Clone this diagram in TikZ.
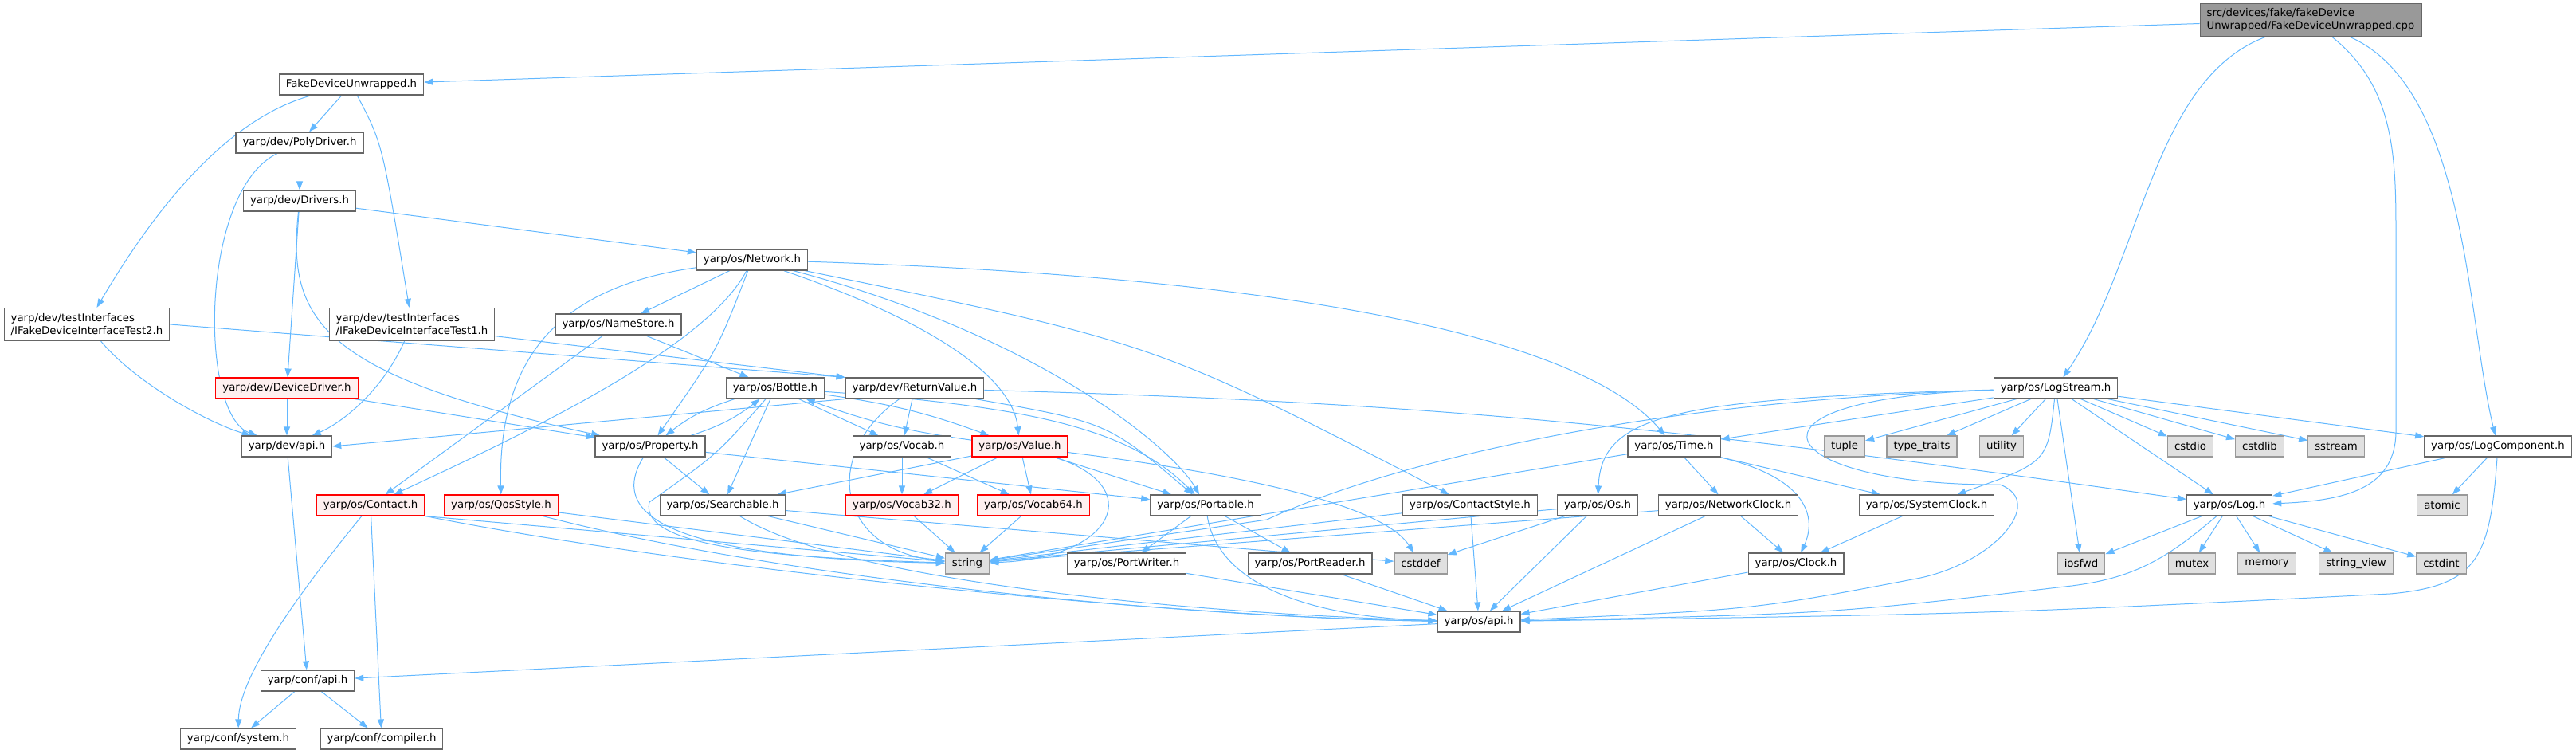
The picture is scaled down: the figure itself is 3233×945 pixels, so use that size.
\documentclass[tikz,border=0pt]{standalone}
\usepackage{fontspec}
\setmainfont{DejaVu Sans}
\usepackage{tikz}
\usetikzlibrary{arrows.meta,backgrounds}
\definecolor{edgeblue}{HTML}{63B8FF}
\definecolor{framegray}{HTML}{666666}
\definecolor{sysgray}{HTML}{999999}
\definecolor{sysfill}{HTML}{E0E0E0}
\definecolor{redfill}{HTML}{FFF0F0}

\begin{document}
\begin{tikzpicture}[x=1pt,y=-1pt,
  file/.style={draw=framegray,fill=white,line width=1.2pt,minimum height=26pt,inner xsep=8.5pt,inner ysep=2pt,font=\fontsize{13.3}{15.5}\selectfont},
  twoline/.style={file,align=left,minimum height=41pt},
  redfile/.style={file,draw=red,fill=redfill},
  sysfile/.style={file,draw=sysgray,fill=sysfill},
  rootfile/.style={twoline,fill=sysgray},
  incl/.style={draw=edgeblue,line width=1pt,-{Triangle[length=11pt,width=8pt]}}]
\useasboundingbox (0,0) rectangle (3233,945);
% files
\node[rootfile] (cpp) at (2900,25) {src/devices/fake/fakeDevice\\Unwrapped/FakeDeviceUnwrapped.cpp};
\node[file] (fdu) at (441,106) {FakeDeviceUnwrapped.h};
\node[file] (poly) at (376,179) {yarp/dev/PolyDriver.h};
\node[file] (drivers) at (376,252) {yarp/dev/Drivers.h};
\node[twoline] (test2) at (109,407) {yarp/dev/testInterfaces\\/IFakeDeviceInterfaceTest2.h};
\node[twoline] (test1) at (517,407) {yarp/dev/testInterfaces\\/IFakeDeviceInterfaceTest1.h};
\node[redfile] (devdrv) at (360,487) {yarp/dev/DeviceDriver.h};
\node[file] (devapi) at (360,560) {yarp/dev/api.h};
\node[redfile] (contact) at (465,634) {yarp/os/Contact.h};
\node[file] (confapi) at (386,854) {yarp/conf/api.h};
\node[file] (confsys) at (299,927) {yarp/conf/system.h};
\node[file] (confcomp) at (479,927) {yarp/conf/compiler.h};
\node[file] (network) at (944,326) {yarp/os/Network.h};
\node[file] (namestore) at (776,407) {yarp/os/NameStore.h};
\node[file] (bottle) at (973,487) {yarp/os/Bottle.h};
\node[file] (retval) at (1148,487) {yarp/dev/ReturnValue.h};
\node[file] (property) at (816,560) {yarp/os/Property.h};
\node[redfile] (qos) at (629,634) {yarp/os/QosStyle.h};
\node[file] (searchable) at (907,634) {yarp/os/Searchable.h};
\node[file] (vocab) at (1132,560) {yarp/os/Vocab.h};
\node[redfile] (value) at (1280,560) {yarp/os/Value.h};
\node[redfile] (vocab32) at (1132,634) {yarp/os/Vocab32.h};
\node[redfile] (vocab64) at (1297,634) {yarp/os/Vocab64.h};
\node[file] (portable) at (1513,634) {yarp/os/Portable.h};
\node[sysfile] (string) at (1214,707) {string};
\node[file] (portwriter) at (1414,707) {yarp/os/PortWriter.h};
\node[file] (portreader) at (1644,707) {yarp/os/PortReader.h};
\node[sysfile] (cstddef) at (1783,707) {cstddef};
\node[file] (osapi) at (1856,780) {yarp/os/api.h};
\node[file] (contactstyle) at (1845,634) {yarp/os/ContactStyle.h};
\node[file] (os) at (2005,634) {yarp/os/Os.h};
\node[file] (netclock) at (2169,634) {yarp/os/NetworkClock.h};
\node[file] (sysclock) at (2418,634) {yarp/os/SystemClock.h};
\node[file] (log) at (2798,634) {yarp/os/Log.h};
\node[sysfile] (atomic) at (3065,634) {atomic};
\node[file] (clock) at (2254,707) {yarp/os/Clock.h};
\node[sysfile] (iosfwd) at (2612,707) {iosfwd};
\node[sysfile] (mutex) at (2751,707) {mutex};
\node[sysfile] (memory) at (2845,707) {memory};
\node[sysfile] (stringview) at (2957,707) {string\_view};
\node[sysfile] (cstdint) at (3064,707) {cstdint};
\node[file] (time) at (2101,560) {yarp/os/Time.h};
\node[file] (logstream) at (2580,487) {yarp/os/LogStream.h};
\node[sysfile] (tuple) at (2315,560) {tuple};
\node[sysfile] (typetraits) at (2412,560) {type\_traits};
\node[sysfile] (utility) at (2512,560) {utility};
\node[sysfile] (cstdio) at (2749,560) {cstdio};
\node[sysfile] (cstdlib) at (2836,560) {cstdlib};
\node[sysfile] (sstream) at (2932,560) {sstream};
\node[file] (logcomp) at (3135,560) {yarp/os/LogComponent.h};
% includes
\begin{scope}[on background layer]
\draw[incl] (cpp) -- (fdu);
\draw[incl] (cpp) .. controls (2700,100) and (2688,330) .. (logstream);
\draw[incl] (cpp) .. controls (3007,110) and (3007,200) .. (3007,300) -- (3007,540) .. controls (3007,610) and (2950,628) .. (log);
\draw[incl] (cpp) .. controls (3096,110) and (3096,400) .. (logcomp);
\draw[incl] (fdu) -- (poly);
\draw[incl] (fdu) .. controls (280,150) and (190,270) .. (test2);
\draw[incl] (fdu) .. controls (480,180) .. (test1);
\draw[incl] (poly) -- (drivers);
\draw[incl] (poly) .. controls (250,240) and (250,520) .. (devapi);
\draw[incl] (drivers) -- (devdrv);
\draw[incl] (drivers) .. controls (360,400) and (400,470) .. (property);
\draw[incl] (drivers) -- (network);
\draw[incl] (test2) .. controls (170,480) and (260,530) .. (devapi);
\draw[incl] (test2.east) -- (retval.north west);
\draw[incl] (test1) .. controls (480,490) and (430,530) .. (devapi);
\draw[incl] (test1.-8) -- (retval.north west);
\draw[incl] (devdrv) -- (devapi);
\draw[incl] (devdrv) -- (property);
\draw[incl] (devapi) -- (confapi);
\draw[incl] (retval.south west) -- (devapi.east);
\draw[incl] (retval) -- (vocab);
\draw[incl] (retval) .. controls (1030,570) and (1050,690) .. (string);
\draw[incl] (retval) .. controls (1390,530) .. (portable);
\draw[incl] (retval) .. controls (1800,505) and (2100,535) .. (log);
\draw[incl] (network) -- (namestore);
\draw[incl] (network) .. controls (900,440) .. (property);
\draw[incl] (network) .. controls (890,430) and (690,530) .. (contact);
\draw[incl] (network) .. controls (700,360) and (625,450) .. (qos);
\draw[incl] (network) .. controls (1160,400) and (1270,470) .. (value);
\draw[incl] (network) .. controls (1300,420) and (1470,560) .. (portable);
\draw[incl] (network) .. controls (1450,430) .. (contactstyle);
\draw[incl] (network) .. controls (1700,350) and (2000,440) .. (time);
\draw[incl] (namestore) -- (bottle);
\draw[incl] (namestore) -- (contact);
\draw[incl] (bottle) to[bend right=10] (property);
\draw[incl] (property) to[bend right=10] (bottle);
\draw[incl] (bottle) to[bend left=6] (value);
\draw[incl] (value) to[bend left=6] (bottle);
\draw[incl] (bottle) -- (searchable);
\draw[incl] (bottle) .. controls (900,570) .. (815,630) .. controls (800,690) and (1000,700) .. (string);
\draw[incl] (bottle) -- (vocab);
\draw[incl] (bottle) .. controls (1300,510) and (1420,540) .. (portable);
\draw[incl] (property) -- (searchable);
\draw[incl] (property) .. controls (760,650) and (850,700) .. (string);
\draw[incl] (property) -- (portable);
\draw[incl] (value) -- (searchable);
\draw[incl] (value) -- (vocab32);
\draw[incl] (value) -- (vocab64);
\draw[incl] (value) .. controls (1440,610) and (1400,700) .. (string);
\draw[incl] (value) -- (portable);
\draw[incl] (value) .. controls (1600,600) and (1740,640) .. (cstddef);
\draw[incl] (vocab) -- (vocab32);
\draw[incl] (vocab) -- (vocab64);
\draw[incl] (vocab32) -- (string);
\draw[incl] (vocab64) -- (string);
\draw[incl] (searchable) -- (string);
\draw[incl] (searchable) .. controls (1060,730) and (1500,770) .. (osapi);
\draw[incl] (searchable) -- (cstddef);
\draw[incl] (qos) -- (string);
\draw[incl] (qos) .. controls (1000,730) and (1500,775) .. (osapi);
\draw[incl] (contact.south east) -- (string);
\draw[incl] (contact) .. controls (900,720) and (1500,775) .. (osapi);
\draw[incl] (contact) .. controls (370,750) and (300,850) .. (confsys);
\draw[incl] (contact) -- (confcomp);
\draw[incl] (confapi) -- (confsys);
\draw[incl] (confapi) -- (confcomp);
\draw[incl] (osapi) -- (confapi);
\draw[incl] (portable) -- (portwriter);
\draw[incl] (portable) -- (portreader);
\draw[incl] (portable) .. controls (1530,740) and (1660,775) .. (osapi);
\draw[incl] (portwriter) -- (osapi);
\draw[incl] (portreader) -- (osapi);
\draw[incl] (contactstyle) -- (string);
\draw[incl] (contactstyle) -- (osapi);
\draw[incl] (os) -- (string);
\draw[incl] (os) -- (cstddef);
\draw[incl] (os) -- (osapi);
\draw[incl] (netclock) -- (string);
\draw[incl] (netclock) -- (clock);
\draw[incl] (netclock) -- (osapi);
\draw[incl] (time) -- (string);
\draw[incl] (time) -- (netclock);
\draw[incl] (time) -- (sysclock);
\draw[incl] (time) .. controls (2270,600) and (2280,650) .. (clock);
\draw[incl] (sysclock) -- (clock);
\draw[incl] (clock) -- (osapi);
\draw[incl] (logstream) -- (time);
\draw[incl] (logstream) -- (tuple);
\draw[incl] (logstream) -- (typetraits);
\draw[incl] (logstream) -- (utility);
\draw[incl] (logstream) -- (cstdio);
\draw[incl] (logstream) -- (cstdlib);
\draw[incl] (logstream) -- (sstream);
\draw[incl] (logstream) -- (logcomp);
\draw[incl] (logstream) -- (log);
\draw[incl] (logstream) -- (iosfwd);
\draw[incl] (logstream) .. controls (2570,580) .. (sysclock);
\draw[incl] (logstream) .. controls (2100,500) and (2010,520) .. (os);
\draw[incl] (logstream) .. controls (2000,505) and (1700,600) .. (1590,652) -- (string);
\draw[incl] (logstream) .. controls (2150,500) and (2230,610) .. (2510,608) .. controls (2570,630) and (2500,710) .. (2400,727) .. controls (2200,765) .. (osapi);
\draw[incl] (log) -- (iosfwd);
\draw[incl] (log) -- (mutex);
\draw[incl] (log) -- (memory);
\draw[incl] (log) -- (stringview);
\draw[incl] (log) -- (cstdint);
\draw[incl] (log) .. controls (2720,700) and (2680,725) .. (2600,735) .. controls (2300,770) .. (osapi);
\draw[incl] (logcomp) -- (log);
\draw[incl] (logcomp) -- (atomic);
\draw[incl] (logcomp) .. controls (3125,700) and (3110,735) .. (3000,745) .. controls (2500,770) .. (osapi);
\end{scope}
\end{tikzpicture}
\end{document}
